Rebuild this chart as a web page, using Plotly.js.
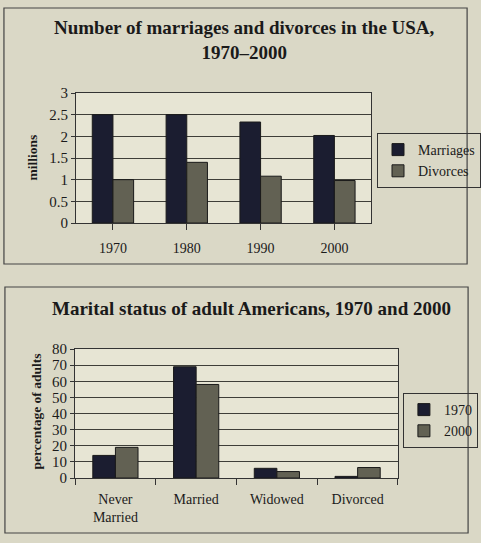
<!DOCTYPE html>
<html>
<head>
<meta charset="utf-8">
<script src="https://cdn.plot.ly/plotly-3.0.1.min.js"></script>
<style>
html,body{margin:0;padding:0;background:#dad8c6;}
#chart{width:481px;height:543px;}
</style>
</head>
<body>
<div id="chart"></div>
<script>
// Chart 1: Number of marriages and divorces in the USA, 1970–2000 (millions)
const years = ['1970', '1980', '1990', '2000'];
const marriages = [2.5, 2.5, 2.33, 2.02];
const divorces = [1.0, 1.4, 1.08, 0.98];
const yTicks1 = [0, 0.5, 1, 1.5, 2, 2.5, 3];

// Chart 2: Marital status of adult Americans, 1970 and 2000 (percentage of adults)
const statuses = ['Never<br>Married', 'Married', 'Widowed', 'Divorced'];
const pct1970 = [14, 69, 6, 1];
const pct2000 = [19, 58, 4, 6.5];
const yTicks2 = [0, 10, 20, 30, 40, 50, 60, 70, 80];

const W = 481, H = 543;
const px = v => v / W;
const py = v => 1 - v / H;

const serif = 'Liberation Serif, Times New Roman, serif';
const dark = '#1b1d30';
const gray = '#626153';
const gridC = '#3e3e38';
const ink = '#1a1a1a';

const traces = [
  {type:'bar', x: years, y: marriages, name:'Marriages', xaxis:'x', yaxis:'y', legend:'legend',
   marker:{color:dark, line:{color:ink, width:1}}},
  {type:'bar', x: years, y: divorces, name:'Divorces', xaxis:'x', yaxis:'y', legend:'legend',
   marker:{color:gray, line:{color:ink, width:1}}},
  {type:'bar', x: statuses, y: pct1970, name:'1970', xaxis:'x2', yaxis:'y2', legend:'legend2',
   marker:{color:dark, line:{color:ink, width:1}}},
  {type:'bar', x: statuses, y: pct2000, name:'2000', xaxis:'x2', yaxis:'y2', legend:'legend2',
   marker:{color:gray, line:{color:ink, width:1}}}
];

const xFont = {family: serif, size: 14, color: ink};
const yFont = {family: serif, size: 15, color: ink};

const layout = {
  width: W, height: H,
  margin:{l:0, r:0, t:0, b:0},
  paper_bgcolor:'#dad8c6',
  plot_bgcolor:'#e7e5d4',
  barmode:'group',
  bargap:0.44,
  bargroupgap:0,
  showlegend:true,
  xaxis:{domain:[px(77), px(376)], anchor:'y', showgrid:false, showline:true, mirror:true,
         linecolor:'#333', linewidth:1, ticks:'outside', tickson:'boundaries', ticklen:6,
         tickcolor:'#333', tickfont:xFont, ticklabelstandoff:6, fixedrange:true},
  yaxis:{domain:[py(223), py(93)], anchor:'x', range:[0,3], tickvals:yTicks1,
         ticktext:yTicks1.map(String), showgrid:true, gridcolor:gridC, gridwidth:1,
         showline:true, mirror:true, linecolor:'#333', ticks:'outside', ticklen:4, tickcolor:'#333',
         tickfont:yFont, zeroline:false, fixedrange:true},
  xaxis2:{domain:[px(76), px(403)], anchor:'y2', showgrid:false, showline:true, mirror:true,
         linecolor:'#333', linewidth:1, ticks:'outside', tickson:'boundaries', ticklen:6,
         tickcolor:'#333', tickfont:xFont, ticklabelstandoff:8, fixedrange:true},
  yaxis2:{domain:[py(478), py(349)], anchor:'x2', range:[0,80], tickvals:yTicks2,
         ticktext:yTicks2.map(String), showgrid:true, gridcolor:gridC, gridwidth:1,
         showline:true, mirror:true, linecolor:'#333', ticks:'outside', ticklen:4, tickcolor:'#333',
         tickfont:yFont, zeroline:false, fixedrange:true},
  legend:{x:px(382), y:py(133), xanchor:'left', yanchor:'top', bgcolor:'rgba(0,0,0,0)',
          bordercolor:'#333', borderwidth:1, font:{family:serif, size:14, color:ink},
          itemwidth:30, tracegroupgap:0},
  legend2:{x:px(408), y:py(393), xanchor:'left', yanchor:'top', bgcolor:'rgba(0,0,0,0)',
          bordercolor:'#333', borderwidth:1, font:{family:serif, size:14, color:ink},
          itemwidth:30, tracegroupgap:0},
  shapes:[
    {type:'rect', xref:'paper', yref:'paper', x0:px(4), x1:px(473), y0:py(264), y1:py(8),
     line:{color:'#444', width:1.2}, fillcolor:'rgba(0,0,0,0)', layer:'below'},
    {type:'rect', xref:'paper', yref:'paper', x0:px(5), x1:px(474), y0:py(533), y1:py(287),
     line:{color:'#444', width:1.2}, fillcolor:'rgba(0,0,0,0)', layer:'below'}
  ],
  annotations:[
    {text:'<b>Number of marriages and divorces in the USA,<br>1970–2000</b>', xref:'paper', yref:'paper',
     x:px(248), y:py(40), xanchor:'center', yanchor:'middle', showarrow:false,
     font:{family:serif, size:19, color:ink}},
    {text:'<b>millions</b>', xref:'paper', yref:'paper', x:px(33), y:py(158), textangle:-90,
     xanchor:'center', yanchor:'middle', showarrow:false, font:{family:serif, size:13.5, color:ink}},
    {text:'<b>Marital status of adult Americans, 1970 and 2000</b>', xref:'paper', yref:'paper',
     x:px(255), y:py(308), xanchor:'center', yanchor:'middle', showarrow:false,
     font:{family:serif, size:19, color:ink}},
    {text:'<b>percentage of adults</b>', xref:'paper', yref:'paper', x:px(36), y:py(412), textangle:-90,
     xanchor:'center', yanchor:'middle', showarrow:false, font:{family:serif, size:13.5, color:ink}}
  ]
};

Plotly.newPlot('chart', traces, layout, {displayModeBar:false, staticPlot:true});
</script>
</body>
</html>
